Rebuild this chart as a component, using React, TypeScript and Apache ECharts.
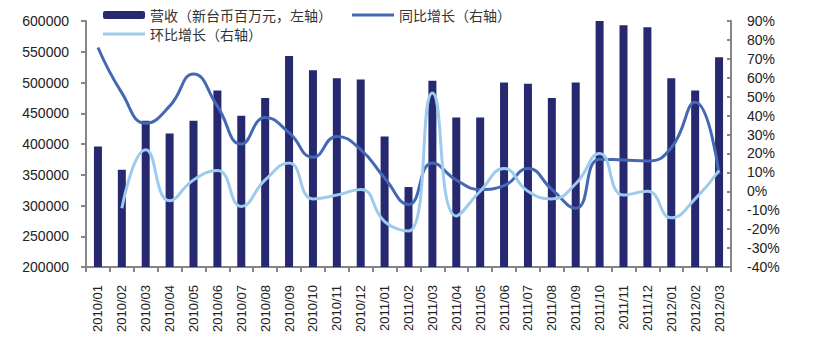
import React, { useEffect, useRef } from "react";
import * as echarts from "echarts";

const categories = [
  "2010/01", "2010/02", "2010/03", "2010/04", "2010/05", "2010/06", "2010/07", "2010/08", "2010/09",
  "2010/10", "2010/11", "2010/12", "2011/01", "2011/02", "2011/03", "2011/04", "2011/05", "2011/06",
  "2011/07", "2011/08", "2011/09", "2011/10", "2011/11", "2011/12", "2012/01", "2012/02", "2012/03",
];

const revenue = [
  396000, 358000, 438000, 417000, 438000, 487000, 446000, 475000, 543000,
  520000, 507000, 505000, 412000, 330000, 503000, 443000, 443000, 500000,
  498000, 475000, 500000, 610000, 593000, 590000, 507000, 487000, 541000,
];

const yoy = [
  76, 52, 36, 45, 62, 45, 25, 39, 31,
  18, 29, 22, 7, -7, 15, 6, 1, 3,
  12, 1, -9, 17, 16.5, 16, 23, 47, 9,
];

const qoq = [
  null, -9, 22, -5, 6, 11, -8, 6, 15,
  -4, -2, 1, -16, -21, 52, -13, 0, 12,
  0, -4, 4, 20, -2, 0, -14, -4, 11,
];

const leftTicks = { min: 200000, max: 600000, interval: 50000 };
const rightTicks = { min: -40, max: 90, interval: 10 };

const names = ["营收（新台币百万元，左轴）", "同比增长（右轴）", "环比增长（右轴）"];

const lineIcon = "path://M0,0 L14,0 L14,1 L0,1 Z";

export default function App() {
  const ref = useRef<HTMLDivElement>(null);
  useEffect(() => {
    document.body.style.margin = "0";
    const chart = echarts.init(ref.current!, null, { renderer: "svg" });
    const axisLine = { show: true, onZero: false, lineStyle: { color: "#868686", width: 2 } };
    const axisLabel = { color: "#222", fontFamily: "Liberation Sans", fontSize: 14 };
    const legendText = { fontFamily: "Noto Sans CJK SC", fontSize: 14, color: "#333", lineHeight: 14 };
    chart.setOption({
      animation: false,
      backgroundColor: "#fff",
      grid: { left: 86, right: 93, top: 21, bottom: 82 },
      legend: [
        {
          data: [names[0], { name: names[1], icon: lineIcon }],
          left: 103,
          top: 8,
          padding: 0,
          itemWidth: 42,
          itemHeight: 8,
          itemGap: 20,
          textStyle: legendText,
        },
        {
          data: [{ name: names[2], icon: lineIcon }],
          left: 103,
          top: 27,
          padding: 0,
          itemWidth: 42,
          itemHeight: 8,
          textStyle: legendText,
        },
      ],
      xAxis: {
        type: "category",
        data: categories,
        axisLine,
        axisTick: { show: true, length: 5, lineStyle: { color: "#868686", width: 2 } },
        axisLabel: { ...axisLabel, fontSize: 13, rotate: 90, interval: 0, margin: 18 },
      },
      yAxis: [
        {
          type: "value",
          ...leftTicks,
          axisLine,
          axisTick: { show: true, length: 5, lineStyle: { color: "#868686", width: 2 } },
          axisLabel: { ...axisLabel, margin: 17, formatter: (v: number) => String(v) },
          splitLine: { show: false },
        },
        {
          type: "value",
          ...rightTicks,
          position: "right",
          axisLine,
          axisTick: { show: true, inside: true, length: 4, lineStyle: { color: "#868686", width: 2 } },
          axisLabel: { ...axisLabel, margin: 16, formatter: "{value}%" },
          splitLine: { show: false },
        },
      ],
      series: [
        {
          name: names[0],
          type: "bar",
          data: revenue,
          barWidth: 8,
          yAxisIndex: 0,
          itemStyle: { color: "#262870" },
        },
        {
          name: names[1],
          type: "line",
          data: yoy,
          yAxisIndex: 1,
          smooth: 0.5,
          symbol: "none",
          lineStyle: { color: "#4468b4", width: 3 },
          itemStyle: { color: "#4468b4" },
        },
        {
          name: names[2],
          type: "line",
          data: qoq,
          yAxisIndex: 1,
          smooth: 0.5,
          symbol: "none",
          lineStyle: { color: "#9dcbee", width: 3 },
          itemStyle: { color: "#9dcbee" },
        },
      ],
    });
    return () => chart.dispose();
  }, []);
  return <div ref={ref} style={{ width: 824, height: 349 }} />;
}
